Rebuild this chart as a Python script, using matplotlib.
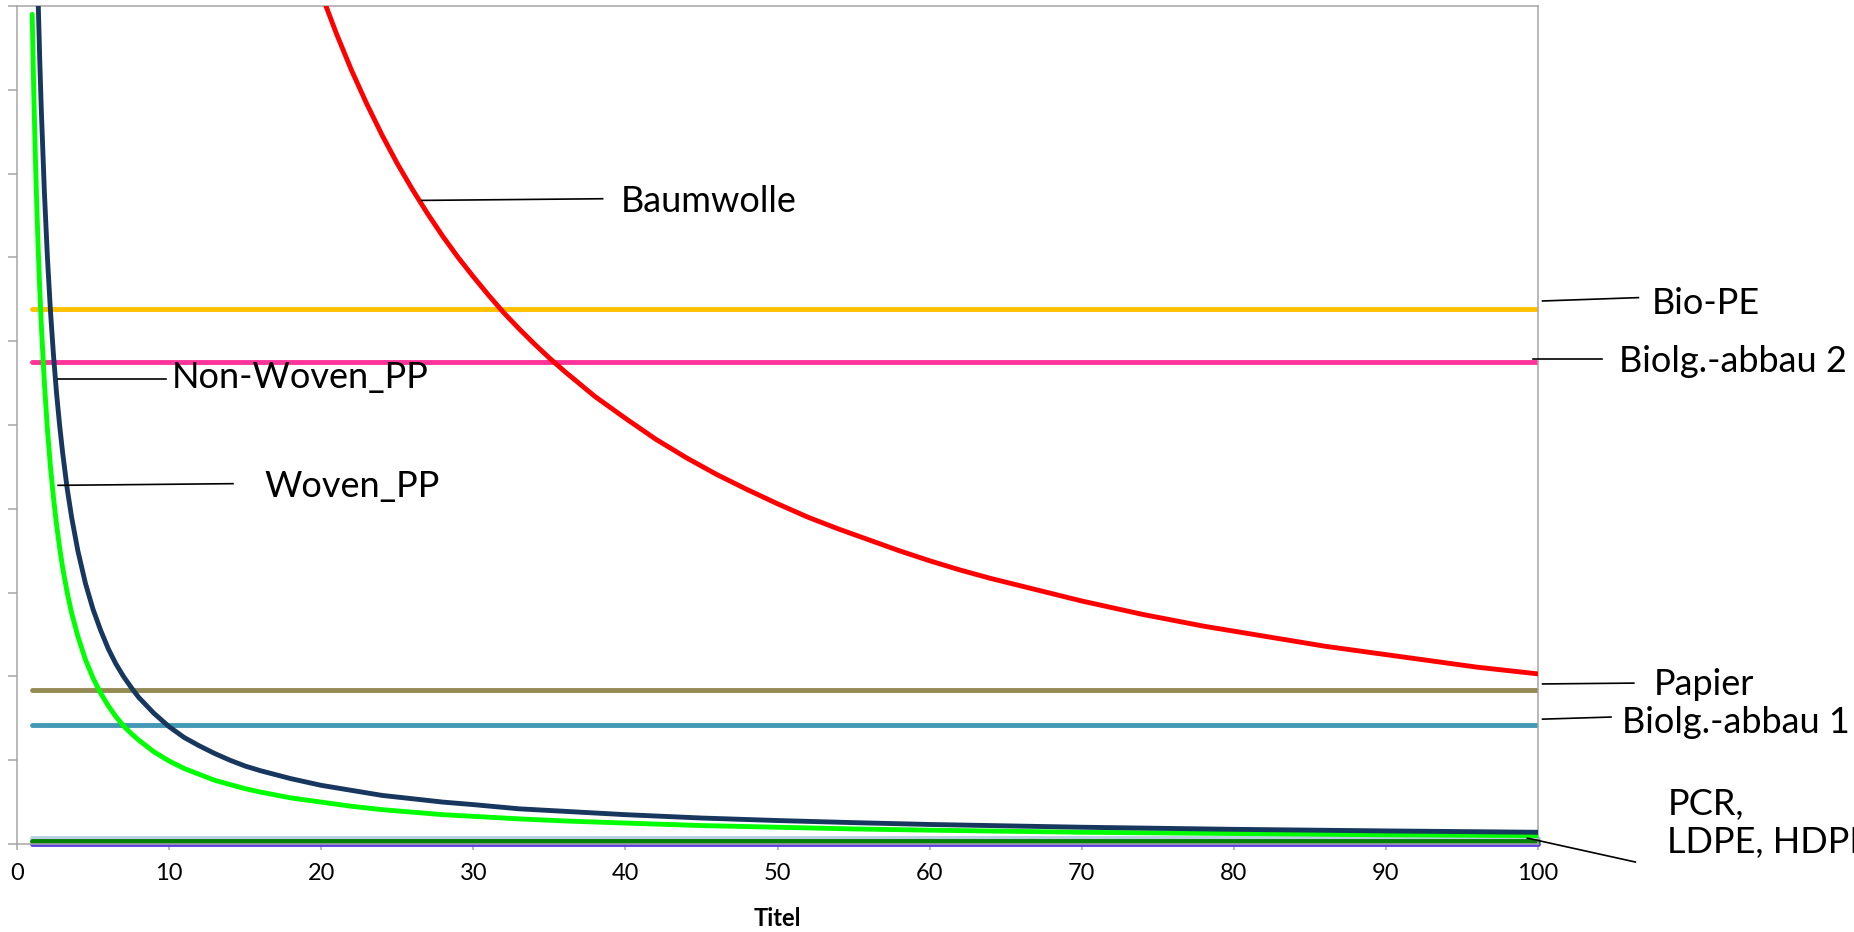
import matplotlib
matplotlib.use("Agg")
import matplotlib.pyplot as plt

# Data (y axis has no labels, units 0..10)
uses = [1, 1.1, 1.2, 1.3, 1.4, 1.5, 1.6, 1.8, 2, 2.2,
        2.4, 2.6, 2.8, 3, 3.3, 3.6, 4, 4.5, 5, 5.5,
        6, 6.5, 7, 7.5, 8, 9, 10, 11, 12, 13,
        14, 15, 16, 18, 20, 22, 24, 26, 28, 30,
        33, 36, 40, 45, 50, 55, 60, 70, 80, 90,
        100]
non_woven_pp = [14.0, 12.7, 11.7, 10.8, 10.0, 9.33, 8.75, 7.78, 7.0, 6.36,
                5.83, 5.38, 5.0, 4.67, 4.24, 3.89, 3.5, 3.11, 2.8, 2.55,
                2.33, 2.15, 2.0, 1.87, 1.75, 1.56, 1.4, 1.27, 1.17, 1.08,
                1.0, 0.93, 0.875, 0.78, 0.7, 0.64, 0.58, 0.54, 0.5, 0.47,
                0.42, 0.39, 0.35, 0.31, 0.28, 0.255, 0.233, 0.2, 0.175, 0.156,
                0.14]
woven_pp = [9.9, 9.0, 8.25, 7.62, 7.07, 6.6, 6.19, 5.5, 4.95, 4.5,
            4.13, 3.81, 3.54, 3.3, 3.0, 2.75, 2.48, 2.2, 1.98, 1.8,
            1.65, 1.52, 1.41, 1.32, 1.24, 1.1, 0.99, 0.9, 0.83, 0.76,
            0.71, 0.66, 0.62, 0.55, 0.5, 0.45, 0.41, 0.38, 0.35, 0.33,
            0.3, 0.275, 0.25, 0.22, 0.2, 0.18, 0.165, 0.14, 0.125, 0.11,
            0.1]

uses_cotton = [19, 20, 21, 22, 23, 24, 25, 26, 27, 28, 29, 30, 31, 32, 33, 34,
               35, 36, 37, 38, 39, 40, 42, 44, 46, 48, 50, 52, 54, 56, 58, 60,
               62, 64, 66, 68, 70, 72, 74, 76, 78, 80, 82, 84, 86, 88, 90, 92,
               94, 96, 98, 100]
baumwolle = [10.7, 10.15, 9.67, 9.23, 8.83, 8.46, 8.12, 7.81, 7.52, 7.25, 7.0,
             6.77, 6.55, 6.34, 6.15, 5.97, 5.8, 5.64, 5.49, 5.34, 5.21, 5.08,
             4.83, 4.61, 4.41, 4.23, 4.06, 3.9, 3.76, 3.63, 3.5, 3.38, 3.27,
             3.17, 3.08, 2.99, 2.9, 2.82, 2.74, 2.67, 2.6, 2.54, 2.48, 2.42,
             2.36, 2.31, 2.26, 2.21, 2.16, 2.11, 2.07, 2.03]

flat_x = [1, 100]
flat_names = ["Bio-PE", "Biolg.-abbau 2", "Papier", "Biolg.-abbau 1",
              "PCR", "HDPE", "LDPE"]
flat_levels = [6.38, 5.75, 1.84, 1.42, 0.075, 0.0, 0.032]
flat_colors = ["#FFC000", "#FF3399", "#948A54", "#4298B5",
               "#B9CDE5", "#5B3FE0", "#008000"]

x_ticks = [0, 10, 20, 30, 40, 50, 60, 70, 80, 90, 100]

fig = plt.figure(figsize=(18.54, 9.32), dpi=100)
ax = fig.add_axes([17 / 1854, 88 / 932, 1521 / 1854, 838 / 932])

lw = 3.5
style = dict(lw=lw, solid_capstyle="round", solid_joinstyle="round")
for name, level, col in zip(flat_names, flat_levels, flat_colors):
    low = level < 0.1
    ax.plot(flat_x, [level, level], color=col, clip_on=not low, zorder=2, **style)

ax.plot(uses, woven_pp, color="#00FF00", zorder=3, **style)
ax.plot(uses, non_woven_pp, color="#17375E", zorder=3, **style)
ax.plot(uses_cotton, baumwolle, color="#FF0000", zorder=4, **style)

ax.set_xlim(0, 100)
ax.set_ylim(0, 10)
ax.set_xticks(x_ticks)
ax.set_yticks(range(0, 11))
ax.set_yticklabels([])
for s in ax.spines.values():
    s.set_color("#A6A6A6")
    s.set_linewidth(1.1)
ax.tick_params(axis="x", direction="out", length=4.5, width=1.1, color="#A6A6A6",
               labelsize=17, pad=9)
ax.tick_params(axis="y", direction="out", length=6.5, width=1.1, color="#A6A6A6")
for lab in ax.get_xticklabels():
    lab.set_fontfamily("Lato")

fig.text(777 / 1854, 1 - 926 / 932, "Titel", ha="center", va="baseline",
         fontsize=17, fontweight="bold", family="Lato")

# Leader lines and labels (positions in data units)
labels = [
    ("Baumwolle", (26.6, 38.5), (7.68, 7.70), 39.7, 7.54),
    ("Bio-PE", (100.3, 106.6), (6.48, 6.52), 107.5, 6.32),
    ("Biolg.-abbau 2", (99.7, 104.2), (5.79, 5.79), 105.3, 5.63),
    ("Papier", (100.3, 106.3), (1.91, 1.92), 107.6, 1.78),
    ("Biolg.-abbau 1", (100.3, 104.8), (1.49, 1.515), 105.5, 1.325),
    ("PCR,\nLDPE, HDPE", (99.3, 106.4), (0.07, -0.215), 108.5, -0.107),
    ("Non-Woven_PP", (2.7, 9.8), (5.55, 5.55), 10.2, 5.44),
    ("Woven_PP", (2.7, 14.2), (4.28, 4.30), 16.3, 4.14),
]
for text, lx, ly, tx, ty in labels:
    ax.plot(lx, ly, color="black", lw=1.2, clip_on=False, zorder=5)
    ax.text(tx, ty, text, ha="left", va="baseline", fontsize=26, family="Lato",
            linespacing=1.2, clip_on=False, zorder=6)

fig.savefig("out.png", dpi=100)
